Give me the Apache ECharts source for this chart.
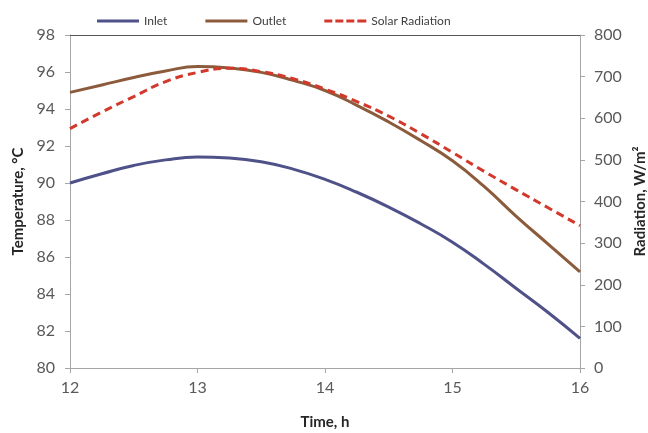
<!DOCTYPE html>
<html>
<head>
<meta charset="utf-8">
<script src="https://cdn.jsdelivr.net/npm/echarts@6/dist/echarts.min.js"></script>
<style>html,body{margin:0;padding:0;background:#fff}#c{width:648px;height:433px}</style>
</head>
<body>
<div id="c"></div>
<script>
const time = [12, 12.25, 12.5, 12.75, 13, 13.25, 13.5, 13.75, 14, 14.25, 14.5, 14.75, 15, 15.25, 15.5, 15.75, 16];
const inlet = [90.0, 90.5, 90.95, 91.25, 91.4, 91.35, 91.15, 90.75, 90.2, 89.5, 88.7, 87.8, 86.8, 85.6, 84.3, 83.0, 81.6];
const outlet = [94.9, 95.3, 95.7, 96.05, 96.3, 96.22, 95.98, 95.55, 95.0, 94.2, 93.3, 92.3, 91.2, 89.8, 88.2, 86.7, 85.2];
const radiation = [575, 615, 652, 688, 710, 720, 712, 695, 670, 640, 605, 563, 518, 472, 428, 385, 342];
const seriesNames = ['Inlet', 'Outlet', 'Solar Radiation'];

const pairs = (ys) => time.map((t, i) => [t, ys[i]]);
const FONT = 'Lato, "Open Sans", sans-serif';
const axisGray = '#a6a6a6';
const labelStyle = {color: '#595959', fontSize: 16, fontFamily: FONT};
const nameStyle = {color: '#262626', fontSize: 15, fontWeight: 'bold', fontFamily: FONT};
const colors = ['#4f5189', '#8c5b3b', '#d2392c'];
const solidIcon = 'path://M0,0H42V3H0Z';
const dashIcon = 'path://M0,0H8V3H0Z M11,0H19V3H11Z M22,0H30V3H22Z M33,0H42V3H33Z';

const chart = echarts.init(document.getElementById('c'), null, {renderer: 'canvas'});
chart.setOption({
  animation: false,
  backgroundColor: '#fff',
  legend: {
    top: 10, left: 92,
    itemWidth: 42, itemHeight: 3, itemGap: 38,
    textStyle: {color: '#404040', fontSize: 12, fontFamily: FONT},
    data: [
      {name: seriesNames[0], icon: solidIcon, itemStyle: {color: colors[0]}},
      {name: seriesNames[1], icon: solidIcon, itemStyle: {color: colors[1]}},
      {name: seriesNames[2], icon: dashIcon, itemStyle: {color: colors[2]}}
    ]
  },
  grid: {left: 70, right: 68, top: 35, bottom: 65, containLabel: false, outerBoundsMode: 'none'},
  xAxis: [{
    type: 'value', min: 12, max: 16, interval: 1,
    name: 'Time, h', nameLocation: 'middle', nameGap: 47, nameTextStyle: nameStyle,
    axisLine: {show: true, lineStyle: {color: axisGray, width: 1}},
    axisTick: {show: true, length: 5, lineStyle: {color: axisGray}},
    axisLabel: Object.assign({margin: 12}, labelStyle),
    splitLine: {show: false}
  }, {
    type: 'value', min: 12, max: 16, position: 'top',
    axisLine: {show: true, lineStyle: {color: '#595959', width: 1}},
    axisTick: {show: false}, axisLabel: {show: false}, splitLine: {show: false}
  }],
  yAxis: [{
    type: 'value', min: 80, max: 98, interval: 2,
    name: 'Temperature, °C', nameLocation: 'middle', nameGap: 41, nameTextStyle: nameStyle,
    axisLine: {show: true, lineStyle: {color: axisGray}},
    axisTick: {show: true, length: 5, lineStyle: {color: axisGray}},
    axisLabel: Object.assign({margin: 15}, labelStyle),
    splitLine: {show: false}
  }, {
    type: 'value', min: 0, max: 800, interval: 100,
    name: 'Radiation, W/m²', nameLocation: 'middle', nameGap: 52, nameRotate: 90, nameTextStyle: nameStyle,
    axisLine: {show: true, lineStyle: {color: axisGray}},
    axisTick: {show: true, length: 5, lineStyle: {color: axisGray}},
    axisLabel: Object.assign({margin: 14}, labelStyle),
    splitLine: {show: false}
  }],
  series: [{
    name: seriesNames[0], type: 'line', smooth: 0.5, showSymbol: false, symbol: 'none',
    data: pairs(inlet), yAxisIndex: 0,
    lineStyle: {color: colors[0], width: 3}, itemStyle: {color: colors[0]}
  }, {
    name: seriesNames[1], type: 'line', smooth: 0.5, showSymbol: false, symbol: 'none',
    data: pairs(outlet), yAxisIndex: 0,
    lineStyle: {color: colors[1], width: 3}, itemStyle: {color: colors[1]}
  }, {
    name: seriesNames[2], type: 'line', smooth: 0.5, showSymbol: false, symbol: 'none',
    data: pairs(radiation), yAxisIndex: 1,
    lineStyle: {color: colors[2], width: 3, type: [8, 5]}, itemStyle: {color: colors[2]}
  }]
});
</script>
</body>
</html>
